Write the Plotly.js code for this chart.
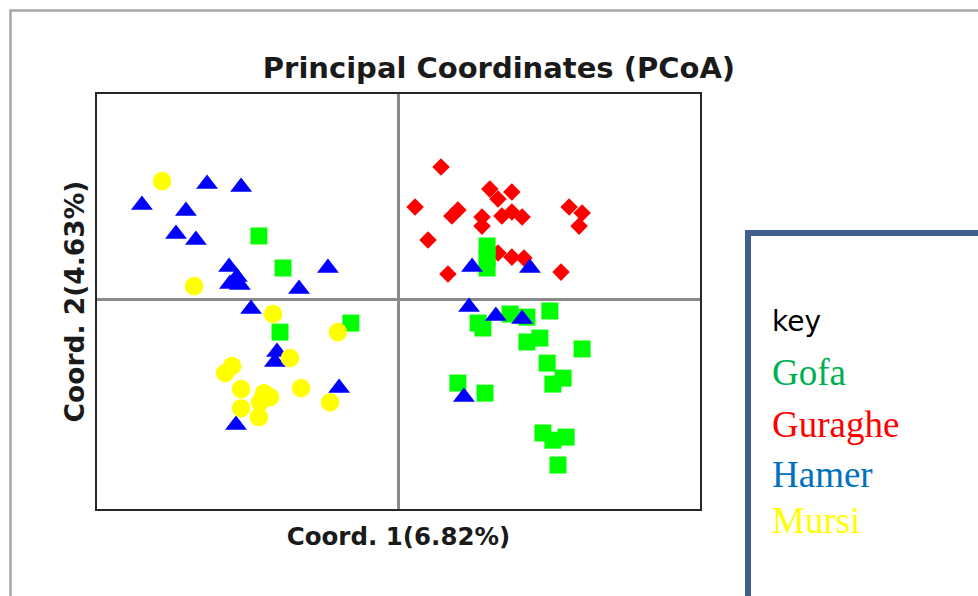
<!DOCTYPE html>
<html>
<head>
<meta charset="utf-8">
<script src="https://cdn.plot.ly/plotly-3.0.1.min.js"></script>
<style>
html,body{margin:0;padding:0;background:#fff;}
#chart{width:978px;height:596px;}
</style>
</head>
<body>
<div id="chart"></div>
<script>
// Population groups (legend "key")
const groups = ["Gofa", "Guraghe", "Hamer", "Mursi"];
const keyTitle = "key";
const chartTitle = "Principal Coordinates (PCoA)";
const xTitle = "Coord. 1(6.82%)";
const yTitle = "Coord. 2(4.63%)";

// Gofa (green squares)
const gofaX = [-0.463, -0.383, -0.393, -0.158, 0.294, 0.294, 0.294, 0.264, 0.280, 0.370, 0.426, 0.502, 0.426, 0.469, 0.493, 0.609, 0.546, 0.512, 0.197, 0.287, 0.479, 0.512, 0.556, 0.529];
const gofaY = [0.309, 0.153, -0.159, -0.115, 0.260, 0.206, 0.153, -0.115, -0.139, -0.071, -0.086, -0.056, -0.207, -0.188, -0.310, -0.241, -0.383, -0.412, -0.407, -0.456, -0.650, -0.685, -0.670, -0.806];

// Guraghe (red diamonds)
const guragheX = [0.141, 0.055, 0.197, 0.177, 0.303, 0.330, 0.376, 0.277, 0.277, 0.343, 0.376, 0.410, 0.566, 0.609, 0.599, 0.098, 0.164, 0.330, 0.376, 0.416, 0.539, 0.300];
const guragheY = [0.645, 0.450, 0.435, 0.406, 0.537, 0.489, 0.523, 0.401, 0.357, 0.406, 0.426, 0.401, 0.450, 0.421, 0.357, 0.289, 0.124, 0.226, 0.206, 0.202, 0.133, 0.241];

// Hamer (blue triangles)
const hamerX = [-0.635, -0.522, -0.851, -0.705, -0.738, -0.672, -0.562, -0.536, -0.559, -0.526, -0.234, -0.330, -0.489, -0.403, -0.410, -0.197, -0.539, 0.244, 0.436, 0.234, 0.323, 0.410, 0.217];
const hamerY = [0.562, 0.547, 0.460, 0.430, 0.318, 0.289, 0.158, 0.109, 0.075, 0.070, 0.153, 0.051, -0.047, -0.256, -0.305, -0.431, -0.611, 0.158, 0.153, -0.037, -0.081, -0.095, -0.475];

// Mursi (yellow circles)
const mursiX = [-0.784, -0.678, -0.416, -0.201, -0.360, -0.552, -0.575, -0.522, -0.446, -0.426, -0.459, -0.522, -0.463, -0.323, -0.227];
const mursiY = [0.576, 0.065, -0.071, -0.159, -0.285, -0.324, -0.358, -0.436, -0.456, -0.475, -0.500, -0.529, -0.573, -0.431, -0.500];

const markerColors = {Gofa: "#00FF00", Guraghe: "#FF0000", Hamer: "#0000FF", Mursi: "#FFFF00"};
const keyColors = {Gofa: "#00B050", Guraghe: "#FF0000", Hamer: "#0070C0", Mursi: "#FFFF00"};

const traces = [
  {name: "Guraghe", x: guragheX, y: guragheY, type: "scatter", mode: "markers",
   marker: {symbol: "diamond", size: 13.5, color: markerColors.Guraghe}},
  {name: "Gofa", x: gofaX, y: gofaY, type: "scatter", mode: "markers",
   marker: {symbol: "square", size: 17, color: markerColors.Gofa}},
  {name: "Hamer", x: hamerX, y: hamerY, type: "scatter", mode: "markers",
   marker: {symbol: "triangle-up", size: 19, color: markerColors.Hamer}},
  {name: "Mursi", x: mursiX, y: mursiY, type: "scatter", mode: "markers",
   marker: {symbol: "circle", size: 18.5, color: markerColors.Mursi}}
];

const W = 978, H = 596, L = 97, R = 278, T = 94, B = 87;
const pw = W - L - R, ph = H - T - B;
const px = p => (p - L) / pw;
const py = q => (H - B - q) / ph;

const keyYs = [321, 372, 424, 474, 520];
const annotations = [
  {text: keyTitle, x: px(770), y: py(keyYs[0]), xref: "paper", yref: "paper", xanchor: "left", yanchor: "middle",
   showarrow: false, font: {family: "DejaVu Sans", size: 28, color: "#000"}}
];
groups.forEach((g, i) => {
  annotations.push({text: g, x: px(770), y: py(keyYs[i + 1]), xref: "paper", yref: "paper", xanchor: "left", yanchor: "middle",
    showarrow: false, font: {family: "Liberation Serif", size: 37, color: keyColors[g]}});
});

const layout = {
  width: W, height: H,
  margin: {l: L, r: R, t: T, b: B, pad: 0},
  paper_bgcolor: "#fff", plot_bgcolor: "#fff",
  showlegend: false,
  title: {text: "<b>" + chartTitle + "</b>", x: 499 / W, xref: "container", xanchor: "center",
          y: 1 - 68 / H, yref: "container", yanchor: "middle",
          font: {family: "DejaVu Sans", size: 29, color: "#1a1a1a"}},
  xaxis: {range: [-1, 1], showticklabels: false, ticks: "", showgrid: false,
          zeroline: true, zerolinecolor: "#8a8a8a", zerolinewidth: 2.5,
          showline: true, linecolor: "#262626", linewidth: 2, mirror: true, fixedrange: true,
          title: {text: "<b>" + xTitle + "</b>", standoff: 18,
                  font: {family: "DejaVu Sans", size: 24.5, color: "#1a1a1a"}}},
  yaxis: {range: [-1.02, 1.0], showticklabels: false, ticks: "", showgrid: false,
          zeroline: true, zerolinecolor: "#8a8a8a", zerolinewidth: 2.5,
          showline: true, linecolor: "#262626", linewidth: 2, mirror: true, fixedrange: true,
          title: {text: "<b>" + yTitle + "</b>", standoff: 3,
                  font: {family: "DejaVu Sans", size: 26.5, color: "#1a1a1a"}}},
  shapes: [
    {type: "path", xref: "paper", yref: "paper",
     path: "M " + px(10.5) + "," + py(640) + " L " + px(10.5) + "," + py(10.5) + " L " + px(1000) + "," + py(10.5),
     line: {color: "#a6a6a6", width: 2.5}},
    {type: "rect", xref: "paper", yref: "paper", x0: px(748), y0: py(640), x1: px(1040), y1: py(233),
     line: {color: "#3F5F8C", width: 6}, fillcolor: "rgba(0,0,0,0)"}
  ],
  annotations: annotations
};

Plotly.newPlot("chart", traces, layout, {staticPlot: true, displayModeBar: false});
</script>
</body>
</html>
